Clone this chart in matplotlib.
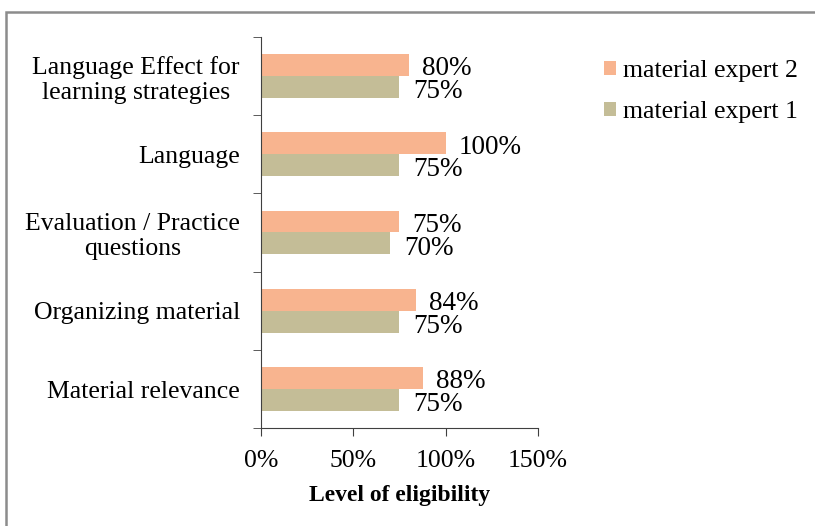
import numpy as np
import matplotlib.pyplot as plt
from matplotlib.patches import Rectangle

plt.rcParams['font.family'] = ['Liberation Serif', 'DejaVu Serif']

categories = ["Material relevance", "Organizing material",
              "Evaluation / Practice\nquestions", "Language",
              "Language Effect for\nlearning strategies"]
expert1 = [75, 75, 70, 75, 75]
expert2 = [88, 84, 75, 100, 80]
xticks = [0, 50, 100, 150]

fig = plt.figure(figsize=(8.15, 5.26), dpi=100)
# outer frame
fig.patches.append(Rectangle((0.007, -0.1), 1.1, 1.077, transform=fig.transFigure,
                             fill=False, edgecolor='#8c8c8c', linewidth=1.8))
ax = fig.add_axes([0.320, 0.186, 0.340, 0.744])

y = np.arange(len(categories))
h = 0.28
b1 = ax.barh(y - h / 2, expert1, height=h, color='#c4bd97', label='material expert 1')
b2 = ax.barh(y + h / 2, expert2, height=h, color='#f8b48f', label='material expert 2')

for yy, v in zip(y, expert1):
    ax.text(v + 7.5, yy - h / 2 - 0.06, f"{v}%", va='center', ha='left', fontsize=19.5)
for yy, v in zip(y, expert2):
    ax.text(v + 7, yy + h / 2 - 0.05, f"{v}%", va='center', ha='left', fontsize=19.5)

ax.set_xlim(0, 150)
ax.set_ylim(-0.5, len(categories) - 0.5)
ax.set_xticks(xticks)
ax.set_xticklabels([f"{t}%" for t in xticks], fontsize=18.5)
ax.set_yticks(y)
ax.set_yticklabels(categories, fontsize=18.5, linespacing=1.18, multialignment='center')
ax.set_yticks(np.arange(-0.5, len(categories)), minor=True)
ax.tick_params(axis='y', which='major', length=0, pad=15)
ax.tick_params(axis='y', which='minor', length=6, color='#404040')
ax.tick_params(axis='x', length=6, color='#404040', pad=10)
ax.set_xlabel("Level of eligibility", fontsize=17, fontweight='bold', labelpad=9)

for s in ['top', 'right']:
    ax.spines[s].set_visible(False)
for s in ['left', 'bottom']:
    ax.spines[s].set_color('#404040')

handles = [b2, b1]
fig.legend(handles, [hd.get_label() for hd in handles], loc='upper left',
           bbox_to_anchor=(0.713, 0.93), frameon=False, fontsize=18.5,
           handlelength=0.45, handleheight=0.45, handletextpad=0.3, labelspacing=0.75)

fig.savefig("out.png", dpi=100)
